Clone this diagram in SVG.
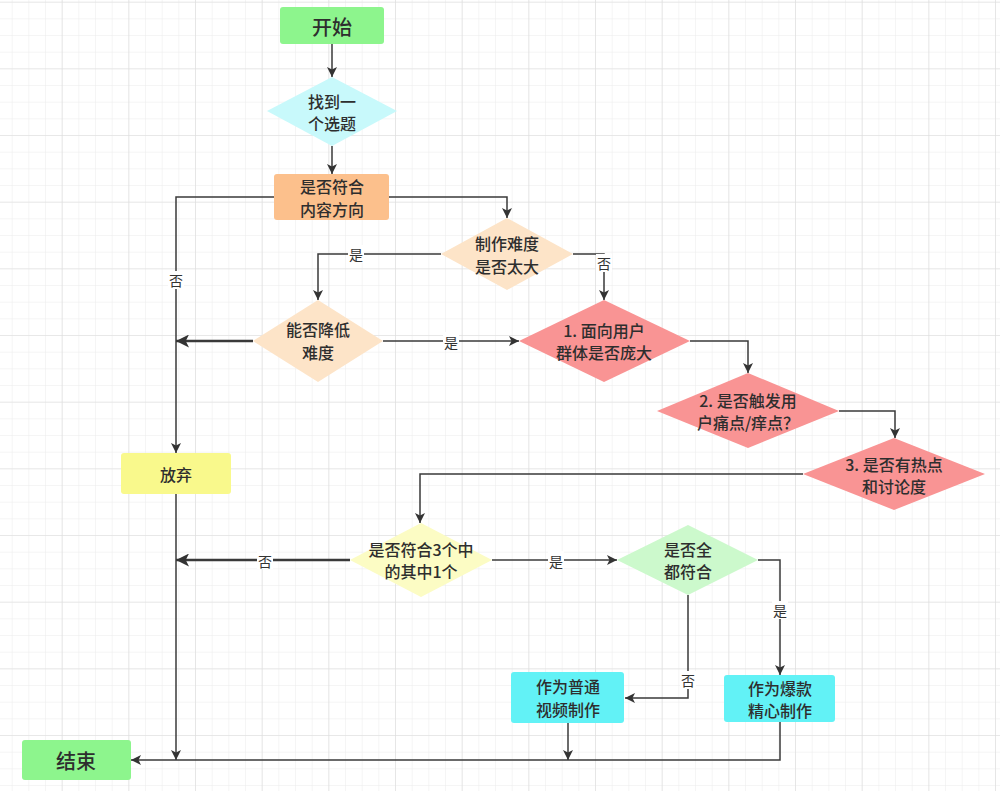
<svg xmlns="http://www.w3.org/2000/svg" width="1000" height="791" viewBox="0 0 1000 791">
<defs>
<pattern id="minor" x="11.67" y="1.67" width="16.667" height="16.667" patternUnits="userSpaceOnUse">
<path d="M0 0 H16.667 M0 0 V16.667" fill="none" stroke="#ebebeb" stroke-width="1"/>
</pattern>
<pattern id="major" x="61.67" y="1.67" width="66.667" height="66.667" patternUnits="userSpaceOnUse">
<path d="M0 0 H66.667 M0 0 V66.667" fill="none" stroke="#dcdcdc" stroke-width="1.2"/>
</pattern>
<marker id="arr" viewBox="0 0 10 10" refX="10" refY="5" markerWidth="10" markerHeight="10" markerUnits="userSpaceOnUse" orient="auto">
<path d="M0 0 L10 5 L0 10 L2.5 5 Z" fill="#333"/>
</marker>
<marker id="arrB" viewBox="0 0 10 10" refX="10" refY="5" markerWidth="13" markerHeight="13" markerUnits="userSpaceOnUse" orient="auto">
<path d="M0 0 L10 5 L0 10 L2.5 5 Z" fill="#333"/>
</marker>
</defs>
<style>
.t{font-family:"Noto Sans CJK SC","Liberation Sans",sans-serif;font-size:16px;font-weight:500;fill:#2e2e2e;text-anchor:middle;dominant-baseline:central}
.big{font-size:20px}
.lb{font-family:"Noto Sans CJK SC","Liberation Sans",sans-serif;font-size:14px;fill:#333;text-anchor:middle;dominant-baseline:central}
.ln{fill:none;stroke:#3a3a3a;stroke-width:1.5}
.thick{stroke-width:2.5}
.lbg{fill:#fff}
</style>
<rect width="1000" height="791" fill="#fff"/>
<rect width="1000" height="791" fill="url(#minor)"/>
<rect width="1000" height="791" fill="url(#major)"/>

<g id="connectors">
<path class="ln" d="M332 44 V77" marker-end="url(#arr)"/>
<path class="ln" d="M332 146 V174" marker-end="url(#arr)"/>
<path class="ln" d="M274 197 H176 V453" marker-end="url(#arr)"/>
<path class="ln" d="M389 197 H507 V218" marker-end="url(#arr)"/>
<path class="ln" d="M441 254 H318 V300" marker-end="url(#arr)"/>
<path class="ln" d="M573 254 H604 V300" marker-end="url(#arr)"/>
<path class="ln thick" d="M253 341 H176" marker-end="url(#arrB)"/>
<path class="ln" d="M383 341 H519" marker-end="url(#arr)"/>
<path class="ln" d="M690 341 H748 V373" marker-end="url(#arr)"/>
<path class="ln" d="M839 411 H895 V438" marker-end="url(#arr)"/>
<path class="ln" d="M803 474 H420 V523" marker-end="url(#arr)"/>
<path class="ln thick" d="M350 560 H176" marker-end="url(#arrB)"/>
<path class="ln" d="M492 560 H617" marker-end="url(#arr)"/>
<path class="ln" d="M758 560 H780 V675" marker-end="url(#arr)"/>
<path class="ln" d="M688 595 V698 H625" marker-end="url(#arr)"/>
<path class="ln" d="M176 494 V760" marker-end="url(#arr)"/>
<path class="ln" d="M568 723 V760" marker-end="url(#arr)"/>
<path class="ln" d="M780 722 V760 H131" marker-end="url(#arr)"/>
<rect class="lbg" x="168" y="271" width="16" height="18"/>
<text class="lb" x="176" y="280">否</text>
<rect class="lbg" x="348" y="245" width="16" height="18"/>
<text class="lb" x="356" y="254">是</text>
<rect class="lbg" x="596" y="254" width="16" height="18"/>
<text class="lb" x="604" y="263">否</text>
<rect class="lbg" x="443" y="332" width="16" height="18"/>
<text class="lb" x="451" y="342">是</text>
<rect class="lbg" x="257" y="551" width="16" height="18"/>
<text class="lb" x="265" y="561">否</text>
<rect class="lbg" x="548" y="551" width="16" height="18"/>
<text class="lb" x="556" y="561">是</text>
<rect class="lbg" x="772" y="601" width="16" height="18"/>
<text class="lb" x="780" y="610">是</text>
<rect class="lbg" x="680" y="671" width="16" height="18"/>
<text class="lb" x="688" y="680">否</text>
</g>

<g id="start">
<rect x="280" y="7" width="104" height="37" rx="3" fill="#8df58d"/>
<text class="t big" x="332" y="26">开始</text>
</g>
<g id="find-topic">
<polygon points="332,77 397,111 332,146 267,111" fill="#c8f9fb"/>
<text class="t" x="332" y="101">找到一</text>
<text class="t" x="332" y="123">个选题</text>
</g>
<g id="content-direction">
<rect x="274" y="174" width="115" height="46" rx="3" fill="#fcc08c"/>
<text class="t" x="332" y="186">是否符合</text>
<text class="t" x="332" y="209">内容方向</text>
</g>
<g id="difficulty">
<polygon points="507,218 573,254 507,290 441,254" fill="#fde4c8"/>
<text class="t" x="507" y="243">制作难度</text>
<text class="t" x="507" y="266">是否太大</text>
</g>
<g id="reduce-difficulty">
<polygon points="318,300 383,341 318,382 253,341" fill="#fde4c8"/>
<text class="t" x="318" y="329">能否降低</text>
<text class="t" x="318" y="352">难度</text>
</g>
<g id="audience">
<polygon points="604,300 690,341 604,382 519,341" fill="#f99494"/>
<text class="t" x="604" y="330">1.  面向用户</text>
<text class="t" x="604" y="352">群体是否庞大</text>
</g>
<g id="pain-point">
<polygon points="748,373 839,411 748,448 657,411" fill="#f99494"/>
<text class="t" x="748" y="400">2. 是否触发用</text>
<text class="t" x="748" y="422">户痛点/痒点？</text>
</g>
<g id="hot-topic">
<polygon points="894,438 985,474 894,510 803,474" fill="#f99494"/>
<text class="t" x="894" y="464">3. 是否有热点</text>
<text class="t" x="894" y="486">和讨论度</text>
</g>
<g id="abandon">
<rect x="121" y="453" width="110" height="41" rx="3" fill="#f9f98c"/>
<text class="t" x="176" y="474">放弃</text>
</g>
<g id="one-of-three">
<polygon points="421,523 492,560 421,597 350,560" fill="#fcfcc4"/>
<text class="t" x="421" y="549">是否符合3个中</text>
<text class="t" x="421" y="571">的其中1个</text>
</g>
<g id="all-match">
<polygon points="688,525 758,560 688,595 617,560" fill="#ccf9cc"/>
<text class="t" x="688" y="549">是否全</text>
<text class="t" x="688" y="571">都符合</text>
</g>
<g id="normal-video">
<rect x="511" y="672" width="113" height="51" rx="3" fill="#62f2f6"/>
<text class="t" x="568" y="686">作为普通</text>
<text class="t" x="568" y="709">视频制作</text>
</g>
<g id="hit-video">
<rect x="724" y="675" width="111" height="47" rx="3" fill="#62f2f6"/>
<text class="t" x="780" y="688">作为爆款</text>
<text class="t" x="780" y="710">精心制作</text>
</g>
<g id="end">
<rect x="22" y="740" width="109" height="40" rx="3" fill="#8df58d"/>
<text class="t big" x="76" y="760">结束</text>
</g>
</svg>
